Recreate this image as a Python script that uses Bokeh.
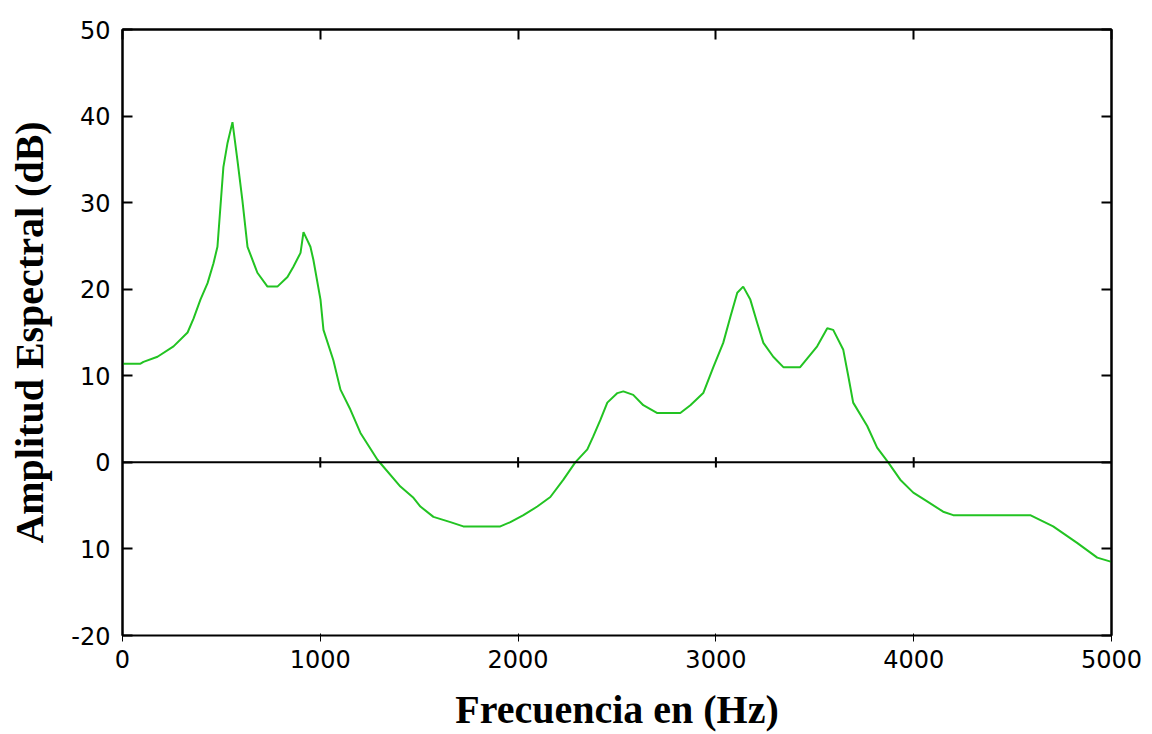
from bokeh.plotting import figure
from bokeh.models import LinearAxis, FixedTicker, Span, Range1d, ColumnDataSource
from bokeh.embed import file_html
from bokeh.resources import INLINE

# Spectrum (frequency in Hz, amplitude in dB)
freq_hz = [0, 91, 106, 177, 258, 329, 359, 394, 430, 460, 480, 495, 510, 531, 556,
           581, 606, 632, 682, 733, 783, 834, 864, 900, 915, 950, 965, 1001, 1016,
           1066, 1102, 1152, 1203, 1289, 1405, 1471, 1506, 1572, 1658, 1723, 1910,
           1961, 2027, 2097, 2163, 2229, 2289, 2350, 2380, 2416, 2451, 2502, 2532,
           2582, 2633, 2704, 2820, 2871, 2936, 2987, 3037, 3073, 3108, 3138, 3174,
           3209, 3240, 3290, 3341, 3426, 3512, 3563, 3593, 3644, 3669, 3694, 3765,
           3815, 3871, 3932, 3998, 4068, 4149, 4200, 4589, 4705, 4826, 4928, 5000]
amp_db = [11.4, 11.4, 11.6, 12.2, 13.4, 15.0, 16.6, 18.8, 20.7, 23.0, 24.9, 29.5,
          34.1, 36.9, 39.3, 34.9, 30.3, 24.9, 21.9, 20.3, 20.3, 21.4, 22.6, 24.2,
          26.6, 24.9, 23.4, 18.8, 15.3, 11.8, 8.4, 6.1, 3.4, 0.3, -2.8, -4.1, -5.1,
          -6.3, -6.9, -7.4, -7.4, -6.9, -6.1, -5.1, -4.0, -2.0, 0.0, 1.5, 3.0, 4.9,
          6.9, 8.0, 8.2, 7.8, 6.6, 5.7, 5.7, 6.6, 8.0, 11.0, 13.8, 16.8, 19.6, 20.3,
          18.8, 16.1, 13.8, 12.2, 11.0, 11.0, 13.4, 15.5, 15.3, 13.0, 10.0, 6.9, 4.2,
          1.7, 0.0, -2.0, -3.5, -4.5, -5.7, -6.1, -6.1, -7.4, -9.3, -11.0, -11.5]

x_ticks = [0, 1000, 2000, 3000, 4000, 5000]
y_ticks = [-20, -10, 0, 10, 20, 30, 40, 50]
y_tick_labels = {-20: "-20", -10: "10", 0: "0", 10: "10", 20: "20", 30: "30", 40: "40", 50: "50"}
zero_line_ticks = [1000, 2000, 3000, 4000]

x_label = "Frecuencia en (Hz)"
y_label = "Amplitud Espectral (dB)"

p = figure(width=1152, height=734, output_backend="svg", toolbar_location=None,
           x_range=Range1d(0, 5000), y_range=Range1d(-20, 50),
           min_border_left=122, min_border_right=41, min_border_top=29, min_border_bottom=98)
p.background_fill_color = "white"
p.border_fill_color = "white"
p.outline_line_color = "black"
p.outline_line_width = 2
p.grid.visible = False

src = ColumnDataSource(dict(x=freq_hz, y=amp_db))
p.line("x", "y", source=src, line_color="#22c322", line_width=2)

p.add_layout(Span(location=0, dimension="width", line_color="black", line_width=2))
p.segment(x0=zero_line_ticks, x1=zero_line_ticks, y0=[-0.6] * 4, y1=[0.6] * 4,
          line_color="black", line_width=2)

tick_font = "DejaVu Sans"
for ax in p.xaxis:
    ax.ticker = FixedTicker(ticks=x_ticks)
    ax.axis_label = x_label
    ax.axis_label_text_font = "Liberation Serif"
    ax.axis_label_text_font_style = "bold"
    ax.axis_label_text_font_size = "40px"
    ax.axis_label_text_color = "black"
    ax.axis_label_standoff = 16
    ax.major_label_text_font = tick_font
    ax.major_label_text_font_size = "24px"
    ax.major_label_text_color = "black"
    ax.major_label_standoff = 8
for ax in p.yaxis:
    ax.ticker = FixedTicker(ticks=y_ticks)
    ax.major_label_overrides = y_tick_labels
    ax.axis_label = y_label
    ax.axis_label_text_font = "Liberation Serif"
    ax.axis_label_text_font_style = "bold"
    ax.axis_label_text_font_size = "40px"
    ax.axis_label_text_color = "black"
    ax.axis_label_standoff = 16
    ax.major_label_text_font = tick_font
    ax.major_label_text_font_size = "24px"
    ax.major_label_text_color = "black"
    ax.major_label_standoff = 12

top = LinearAxis(ticker=FixedTicker(ticks=x_ticks),
                 major_label_overrides={t: "" for t in x_ticks})
right = LinearAxis(ticker=FixedTicker(ticks=y_ticks),
                   major_label_overrides={t: "" for t in y_ticks})
p.add_layout(top, "above")
p.add_layout(right, "right")

for ax in [p.xaxis[0], p.yaxis[0], top, right]:
    ax.axis_line_color = "black"
    ax.axis_line_width = 2
    ax.major_tick_line_color = "black"
    ax.major_tick_line_width = 2
    ax.major_tick_in = 10
    ax.major_tick_out = 0
    ax.minor_tick_line_color = None
for ax in [top, right]:
    ax.major_label_standoff = 0

open("out.html", "w").write(file_html(p, INLINE))
